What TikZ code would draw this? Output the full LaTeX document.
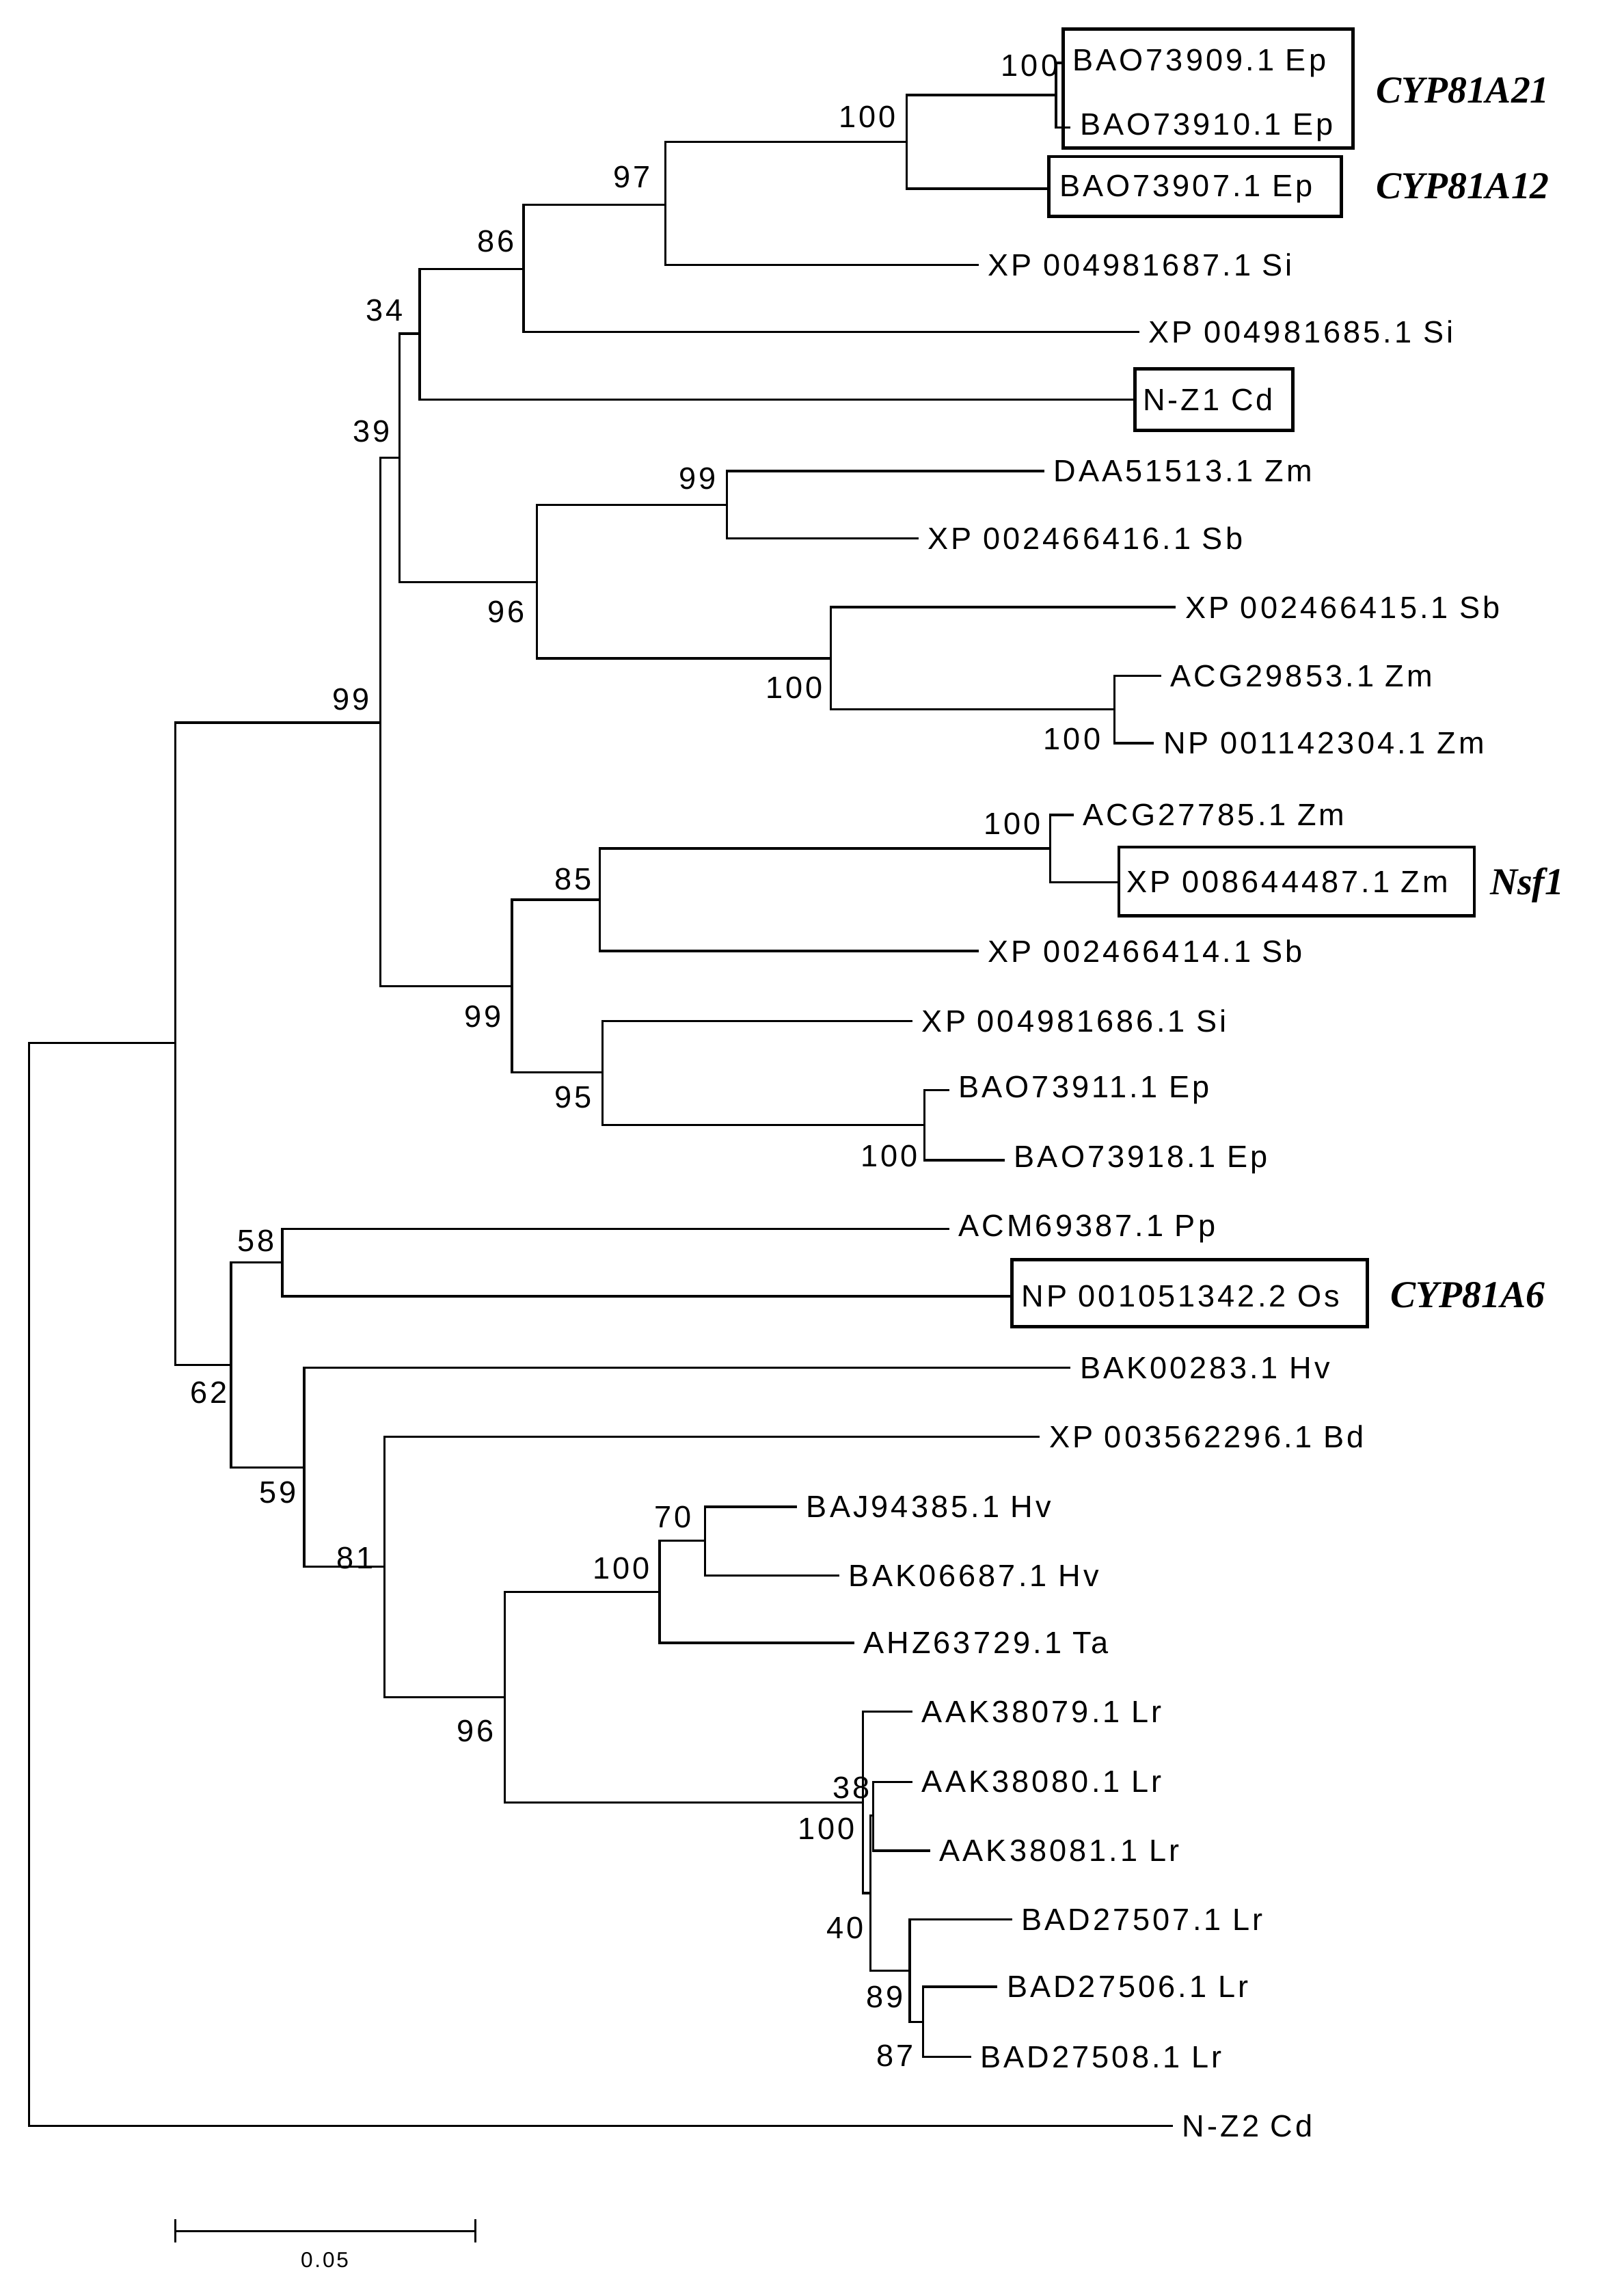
\documentclass[tikz,border=0pt]{standalone}
\usepackage{fontspec}
\setmainfont{Liberation Sans}[LetterSpace=9]
\newfontfamily\genefont{Liberation Serif}
\begin{document}
\begin{tikzpicture}[x=0.05cm,y=-0.05cm,line width=2.2pt,
  leaf/.style={anchor=west,inner xsep=8pt,inner ysep=0pt,font=\fontsize{30}{31}\selectfont},
  bs/.style={inner sep=0pt,font=\fontsize{30}{31}\selectfont},
  box/.style={line width=3.2pt},
  gene/.style={anchor=west,inner sep=0pt,font=\genefont\bfseries\itshape\fontsize{37}{39}\selectfont}]
  \useasboundingbox (0,0) rectangle (1110,1566);
  \newcommand\leaf[4]{\node[leaf] (#1) at (#2,#3) {#4};}
  \newcommand\br[2]{\draw (#1) |- (#2);}
  % leaves
  \leaf{l1}{727}{43}{BAO73909.1 Ep}
  \leaf{l2}{732}{87}{BAO73910.1 Ep}
  \leaf{l3}{718}{129}{BAO73907.1 Ep}
  \leaf{l4}{669}{181}{XP 004981687.1 Si}
  \leaf{l5}{779}{227}{XP 004981685.1 Si}
  \leaf{l6}{775}{273}{N-Z1 Cd}
  \leaf{l7}{714}{322}{DAA51513.1 Zm}
  \leaf{l8}{628}{368}{XP 002466416.1 Sb}
  \leaf{l9}{804}{415}{XP 002466415.1 Sb}
  \leaf{l10}{794}{462}{ACG29853.1 Zm}
  \leaf{l11}{789}{508}{NP 001142304.1 Zm}
  \leaf{l12}{734}{557}{ACG27785.1 Zm}
  \leaf{l13}{764}{603}{XP 008644487.1 Zm}
  \leaf{l14}{669}{650}{XP 002466414.1 Sb}
  \leaf{l15}{624}{698}{XP 004981686.1 Si}
  \leaf{l16}{649}{745}{BAO73911.1 Ep}
  \leaf{l17}{687}{793}{BAO73918.1 Ep}
  \leaf{l18}{649}{840}{ACM69387.1 Pp}
  \leaf{l19}{692}{886}{NP 001051342.2 Os}
  \leaf{l20}{732}{935}{BAK00283.1 Hv}
  \leaf{l21}{711}{982}{XP 003562296.1 Bd}
  \leaf{l22}{545}{1030}{BAJ94385.1 Hv}
  \leaf{l23}{574}{1077}{BAK06687.1 Hv}
  \leaf{l24}{584}{1123}{AHZ63729.1 Ta}
  \leaf{l25}{624}{1170}{AAK38079.1 Lr}
  \leaf{l26}{624}{1218}{AAK38080.1 Lr}
  \leaf{l27}{636}{1265}{AAK38081.1 Lr}
  \leaf{l28}{692}{1312}{BAD27507.1 Lr}
  \leaf{l29}{682}{1358}{BAD27506.1 Lr}
  \leaf{l30}{664}{1406}{BAD27508.1 Lr}
  \leaf{l31}{802}{1453}{N-Z2 Cd}
  % internal nodes
  \coordinate (nI) at (722,65);   \coordinate (nH) at (620,97);
  \coordinate (nG) at (455,140);  \coordinate (nF) at (358,184);
  \coordinate (nE) at (287,228);  \coordinate (nK) at (497,345);
  \coordinate (nM) at (762,485);  \coordinate (nL) at (568,450);
  \coordinate (nJ) at (367,398);  \coordinate (nD) at (273,313);
  \coordinate (nP) at (718,580);  \coordinate (nO) at (410,615);
  \coordinate (nR) at (632,769);  \coordinate (nQ) at (412,733);
  \coordinate (nN) at (350,674);  \coordinate (nB) at (260,494);
  \coordinate (nS) at (193,863);  \coordinate (nX) at (482,1053);
  \coordinate (nW) at (451,1088); \coordinate (nZ) at (597,1241);
  \coordinate (nAD) at (631,1382); \coordinate (nAC) at (622,1347);
  \coordinate (nAB) at (595,1294); \coordinate (nY) at (590,1232);
  \coordinate (nV) at (345,1160); \coordinate (nU) at (263,1071);
  \coordinate (nT) at (208,1003); \coordinate (nC) at (158,933);
  \coordinate (nA) at (120,713);  \coordinate (root) at (20,1083);
  % branches
  \foreach \p/\c in {nI/l1.west,nI/l2.west,nH/nI,nH/l3.west,nG/nH,nG/l4.west,
    nF/nG,nF/l5.west,nE/nF,nE/l6.west,nK/l7.west,nK/l8.west,nM/l10.west,nM/l11.west,
    nL/l9.west,nL/nM,nJ/nK,nJ/nL,nD/nE,nD/nJ,nP/l12.west,nP/l13.west,nO/nP,nO/l14.west,
    nR/l16.west,nR/l17.west,nQ/l15.west,nQ/nR,nN/nO,nN/nQ,nB/nD,nB/nN,
    nS/l18.west,nS/l19.west,nX/l22.west,nX/l23.west,nW/nX,nW/l24.west,
    nZ/l26.west,nZ/l27.west,nAD/l29.west,nAD/l30.west,nAC/l28.west,nAC/nAD,
    nAB/nZ,nAB/nAC,nY/l25.west,nY/nAB,nV/nW,nV/nY,nU/l21.west,nU/nV,
    nT/l20.west,nT/nU,nC/nS,nC/nT,nA/nB,nA/nC,root/nA,root/l31.west}
    \br{\p}{\c};
  % bootstrap values
  \foreach \n/\x/\y/\v in {b1/704/45/100,b2/593/80/100,b3/432/121/97,b4/339/165/86,
    b5/263/212/34,b6/254/295/39,b7/477/327/99,b8/346/418/96,b9/543/470/100,
    b10/733/505/100,b11/240/478/99,b12/692/563/100,b13/392/601/85,b14/330/695/99,
    b15/392/750/95,b16/608/790/100,b17/175/848/58,b18/143/952/62,b19/190/1020/59,
    b20/243/1065/81,b21/460/1037/70,b22/425/1072/100,b23/325/1183/96,
    b24/582/1222/38,b25/565/1250/100,b26/578/1318/40,b27/605/1365/89,b28/612/1405/87}
    \node[bs] (\n) at (\x,\y) {\v};
  % boxed genes
  \draw[box] (727,20) rectangle (925,101);
  \draw[box] (717,107) rectangle (917,148);
  \draw[box] (776,252) rectangle (884,294);
  \draw[box] (765,579) rectangle (1008,626);
  \draw[box] (692,861) rectangle (935,907);
  \node[gene] (g1) at (940,62) {CYP81A21};
  \node[gene] (g2) at (940,127) {CYP81A12};
  \node[gene] (g3) at (1018,605) {Nsf1};
  \node[gene] (g4) at (950,885) {CYP81A6};
  % scale bar
  \draw (120,1517) -- (120,1533) (120,1525) -- (325,1525) (325,1517) -- (325,1533);
  \node[bs,font=\fontsize{21}{22}\selectfont] (scale) at (222,1545) {0.05};
\end{tikzpicture}
\end{document}
